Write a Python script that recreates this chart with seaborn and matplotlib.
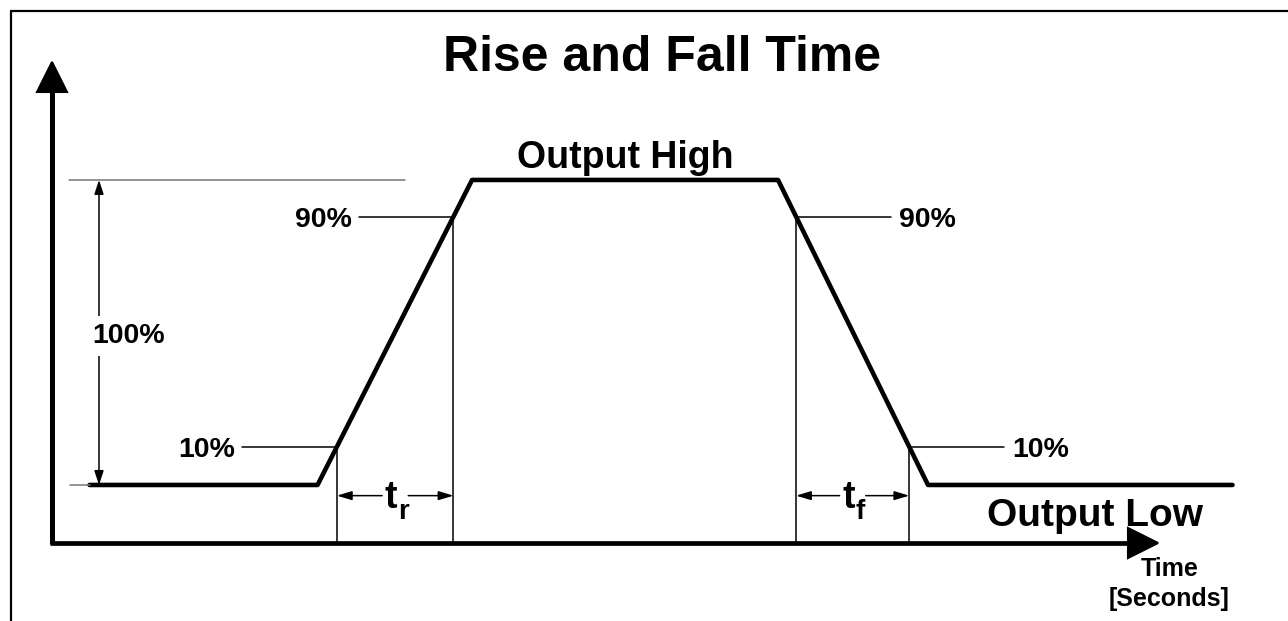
import numpy as np
import matplotlib
matplotlib.use("Agg")
import matplotlib.pyplot as plt
from matplotlib.lines import Line2D
import seaborn as sns

# waveform corners: time (arbitrary units) vs output level (% of swing)
wave_time = [2.5, 17.7, 28.0, 48.4, 58.4, 78.7]
wave_level = [0, 0, 100, 100, 0, 0]

# levels where the 10% / 90% marks sit in the drawing
threshold_levels = [12.5, 88.0]
threshold_labels = ["10%", "90%"]

title = "Rise and Fall Time"
high_label = "Output High"
low_label = "Output Low"
time_label = "Time\n[Seconds]"
span_label = "100%"
edge_subs = ["r", "f"]

# layout constants (data units)
axis_level = -19.0      # where the time axis sits
axis_end = 73.7         # tip of the time axis arrow
yaxis_top = 138.4       # tip of the level axis arrow
leader = 6.3            # length of the 10%/90% leader lines
dim_level = -3.5        # height of the t_r / t_f dimension arrows

sns.set_theme(style="white")
plt.rcParams["font.family"] = ["Liberation Sans", "DejaVu Sans"]
plt.rcParams["font.weight"] = "bold"
plt.rcParams["text.color"] = "black"

fig = plt.figure(figsize=(12.88, 6.21), dpi=100)
ax = fig.add_axes([0, 0, 1, 1])
ax.set_xlim(-3.47, 82.4)
ax.set_ylim(-44.6, 159.0)
ax.axis("off")

# frame (top and left only)
fig.add_artist(Line2D([0.0085, 1], [0.9823, 0.9823], transform=fig.transFigure, color="black", lw=1.6))
fig.add_artist(Line2D([0.0085, 0.0085], [0, 0.9823], transform=fig.transFigure, color="black", lw=1.6))

# axes with arrow heads
ax.plot([-0.13, axis_end - 1.9], [axis_level, axis_level], color="black", lw=3.4, solid_capstyle="butt")
ax.plot([axis_end - 1.0], [axis_level], marker=">", ms=21, color="black", mew=1.5, mec="black")
ax.plot([0, 0], [axis_level - 0.5, yaxis_top - 9.0], color="black", lw=3.6, solid_capstyle="butt")
ax.plot([0], [yaxis_top - 4.75], marker="^", ms=21, color="black", mew=1.5, mec="black")

# waveform
sns.lineplot(x=wave_time, y=wave_level, sort=False, color="black", lw=3.3, ax=ax)

# reference lines for 0% and 100%
ax.plot([1.13, 23.5], [100, 100], color="#777777", lw=1.1)
ax.plot([1.2, wave_time[0]], [0, 0], color="#777777", lw=1.1)

# 100% span arrow
span_t = 3.13
ax.annotate("", xy=(span_t, 100), xytext=(span_t, 0),
            arrowprops=dict(arrowstyle="<|-|>,head_length=0.85,head_width=0.28", color="black",
                            lw=1.1, mutation_scale=10, shrinkA=0, shrinkB=0))
ax.text(5.1, 46.6, span_label, ha="center", va="baseline", fontsize=20.5, fontweight="bold",
        bbox=dict(boxstyle="square,pad=0.25", fc="white", ec="none"))

# crossings of the edges with the 10% / 90% levels
rise_t = np.interp(threshold_levels, wave_level[1:3], wave_time[1:3])
fall_t = np.interp(threshold_levels, wave_level[4:2:-1], wave_time[4:2:-1])

half_cap = 3.4
for lev, lab, tr, tf in zip(threshold_levels, threshold_labels, rise_t, fall_t):
    # rising edge, label on the left
    ax.plot([tr - leader, tr], [lev, lev], color="black", lw=1.1)
    ax.text(tr - leader - 0.45, lev - half_cap, lab, ha="right", va="baseline", fontsize=20.5, fontweight="bold")
    # falling edge, label on the right
    ax.plot([tf, tf + leader], [lev, lev], color="black", lw=1.1)
    ax.text(tf + leader + 0.55, lev - half_cap, lab, ha="left", va="baseline", fontsize=20.5, fontweight="bold")

# verticals down to the time axis
ax.vlines(list(rise_t) + list(fall_t), axis_level, list(threshold_levels) + list(threshold_levels),
          color="black", lw=1.1)

# t_r / t_f dimension arrows
for (t0, t1), sub in zip([(rise_t[0], rise_t[1]), (fall_t[1], fall_t[0])], edge_subs):
    mid = (t0 + t1) / 2
    for start, end in [(mid - 0.87, t0), (mid + 0.87, t1)]:
        ax.annotate("", xy=(end, dim_level), xytext=(start, dim_level),
                    arrowprops=dict(arrowstyle="-|>,head_length=0.9,head_width=0.27", color="black",
                                    lw=1.1, mutation_scale=10, shrinkA=0, shrinkB=0))
    ax.text(mid - 0.27, -7.5, "t", ha="center", va="baseline", fontsize=27, fontweight="bold")
    ax.text(mid + 0.18, -11.1, sub, ha="left", va="baseline", fontsize=20, fontweight="bold")

# labels
ax.text((wave_time[2] + wave_time[3]) / 2, 103.9, high_label, ha="center", va="baseline",
        fontsize=27, fontweight="bold")
ax.text(69.5, -13.4, low_label, ha="center", va="baseline", fontsize=28, fontweight="bold")
# baseline here is the last line ("[Seconds]")
ax.text(74.5, -39.6, time_label, ha="center", va="baseline", fontsize=18, fontweight="bold",
        linespacing=1.3)
ax.text(40.7, 135.7, title, ha="center", va="baseline", fontsize=36, fontweight="bold")

fig.savefig("out.png", dpi=100)
